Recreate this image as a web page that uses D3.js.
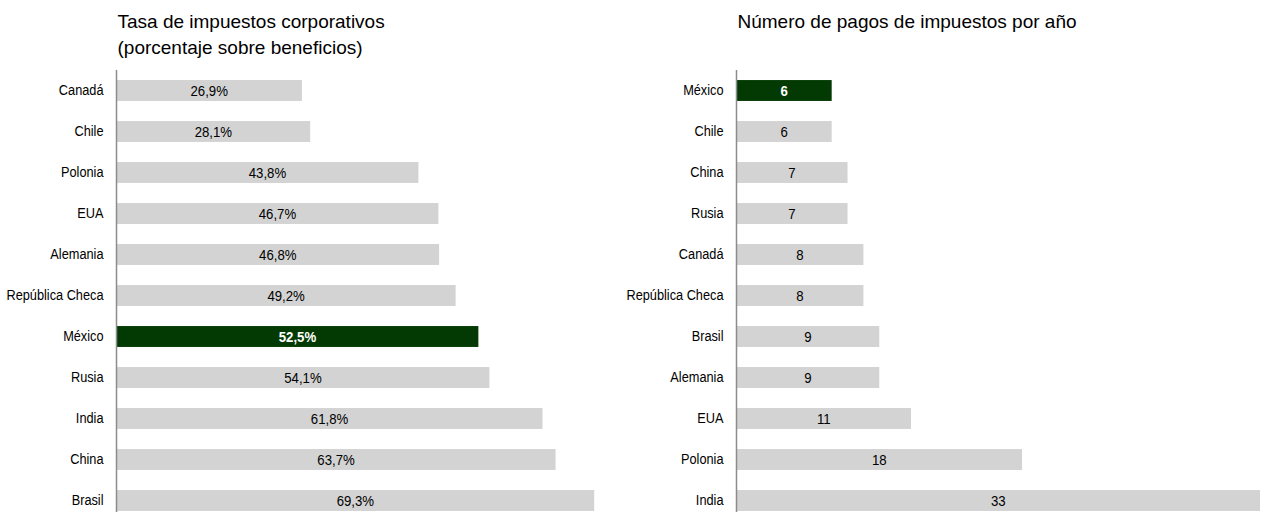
<!DOCTYPE html>
<html>
<head>
<meta charset="utf-8">
<script src="https://cdn.jsdelivr.net/npm/d3@7"></script>
<style>
  body { margin: 0; background: #fff; }
  text { fill: #000; }
</style>
</head>
<body>
<script>
// left panel: corporate tax rate (% of profits)
const rateCountries = ["Canadá", "Chile", "Polonia", "EUA", "Alemania", "República Checa", "México", "Rusia", "India", "China", "Brasil"];
const rateValues = [26.9, 28.1, 43.8, 46.7, 46.8, 49.2, 52.5, 54.1, 61.8, 63.7, 69.3];

// right panel: number of tax payments per year
const payCountries = ["México", "Chile", "China", "Rusia", "Canadá", "República Checa", "Brasil", "Alemania", "EUA", "Polonia", "India"];
const payValues = [6, 6, 7, 7, 8, 8, 9, 9, 11, 18, 33];

const highlight = "México";

const width = 1264, height = 512;
const font = "'Liberation Sans', Arial, sans-serif";
// the original uses a narrow face; squeeze the regular one horizontally
const squeeze = 0.88;

const svg = d3.select("body")
    .append("svg")
    .attr("width", width)
    .attr("height", height);

function panel(opts) {
    const g = svg.append("g");

    const y = d3.scaleBand()
        .domain(opts.cats)
        .range([70, 521])
        .paddingInner(0.49)
        .paddingOuter(0.245);

    const x = d3.scaleLinear()
        .domain([0, opts.max])
        .range([opts.x0, opts.x1]);

    // titles
    opts.title.forEach(function(t, i) {
        g.append("text")
            .attr("x", opts.x0 + 1)
            .attr("y", 28 + i * 26)
            .style("font-family", font)
            .style("font-size", "19px")
            .text(t);
    });

    const data = opts.cats.map((c, i) => ({cat: c, val: opts.vals[i]}));

    // bars
    g.selectAll("rect.bar")
        .data(data)
        .join("rect")
        .attr("class", "bar")
        .attr("x", x(0))
        .attr("y", d => y(d.cat))
        .attr("width", d => x(d.val) - x(0))
        .attr("height", y.bandwidth())
        .attr("fill", d => d.cat === highlight ? "#033a03" : "#d3d3d3");

    // value labels centered in bars
    g.selectAll("text.val")
        .data(data)
        .join("text")
        .attr("class", "val")
        .attr("transform", d => `translate(${(x(0) + x(d.val)) / 2},${y(d.cat) + y.bandwidth() / 2}) scale(${squeeze},1)`)
        .attr("dy", "0.36em")
        .attr("text-anchor", "middle")
        .style("font-family", font)
        .style("font-size", "15px")
        .style("font-weight", d => d.cat === highlight ? "bold" : "normal")
        .style("fill", d => d.cat === highlight ? "#fff" : "#000")
        .text(d => opts.fmt(d.val));

    // category axis
    const axis = g.append("g")
        .attr("transform", `translate(${x(0)},0)`)
        .call(d3.axisLeft(y).tickSize(0).tickPadding(13));
    axis.select(".domain").remove();
    axis.selectAll("text")
        .attr("x", -13 / squeeze)
        .attr("transform", `scale(${squeeze},1)`)
        .style("font-family", font)
        .style("font-size", "14.5px");

    g.append("line")
        .attr("x1", x(0)).attr("x2", x(0))
        .attr("y1", 70).attr("y2", height)
        .attr("stroke", "#8c8c8c")
        .attr("stroke-width", 1.5);
}

panel({
    cats: rateCountries, vals: rateValues, max: 70,
    x0: 116.5, x1: 599,
    title: ["Tasa de impuestos corporativos", "(porcentaje sobre beneficios)"],
    fmt: v => d3.format(".1f")(v).replace(".", ",") + "%"
});

panel({
    cats: payCountries, vals: payValues, max: 33,
    x0: 736.5, x1: 1260,
    title: ["Número de pagos de impuestos por año"],
    fmt: v => String(v)
});
</script>
</body>
</html>
